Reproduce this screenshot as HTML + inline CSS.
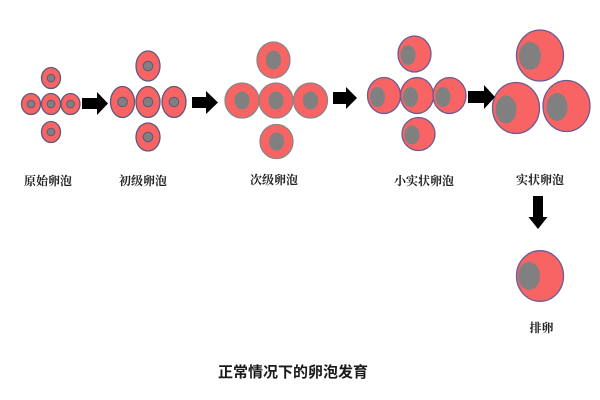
<!DOCTYPE html>
<html>
<head>
<meta charset="utf-8">
<style>
html,body{margin:0;padding:0;background:#fff;}
svg{display:block;}
.lbl{font-family:"Liberation Serif","Noto Serif CJK SC",serif;font-weight:bold;font-size:12px;fill:#222;}
.ttl{font-family:"Liberation Sans","Noto Sans CJK SC",sans-serif;font-weight:bold;font-size:15px;fill:#1a1a1a;}
</style>
</head>
<body>
<svg width="600" height="400" viewBox="0 0 600 400" xmlns="http://www.w3.org/2000/svg">
<rect width="600" height="400" fill="#fff"/>
<!-- Group 1 -->
<g fill="#f86464" stroke="#5a5a7c" stroke-width="1.3">
<ellipse cx="51" cy="78" rx="9.5" ry="10.5"/>
<ellipse cx="31" cy="104" rx="9.5" ry="10.5"/>
<ellipse cx="51" cy="104" rx="9.5" ry="10.5"/>
<ellipse cx="70.5" cy="104" rx="9.5" ry="10.5"/>
<ellipse cx="51" cy="132" rx="9.5" ry="10.5"/>
</g>
<g fill="#808080" stroke="#5a5a7c" stroke-width="1">
<circle cx="51" cy="78" r="3.8"/>
<circle cx="31" cy="104" r="3.8"/>
<circle cx="51" cy="104" r="3.8"/>
<circle cx="70.5" cy="104" r="3.8"/>
<circle cx="51" cy="132" r="3.8"/>
</g>
<!-- Group 2 -->
<g fill="#f86464" stroke="#5a5a7c" stroke-width="1.3">
<ellipse cx="148" cy="66" rx="12" ry="15"/>
<ellipse cx="122.5" cy="102" rx="12" ry="15.5"/>
<ellipse cx="148" cy="102" rx="12" ry="15.5"/>
<ellipse cx="174" cy="102" rx="12" ry="15.5"/>
<ellipse cx="148" cy="137" rx="12" ry="14"/>
</g>
<g fill="#808080" stroke="#5a5a7c" stroke-width="1">
<circle cx="148" cy="66" r="4.8"/>
<circle cx="122.5" cy="102" r="4.8"/>
<circle cx="148" cy="102" r="4.8"/>
<circle cx="174" cy="102" r="4.8"/>
<circle cx="148" cy="137" r="4.8"/>
</g>
<!-- Group 3 -->
<g fill="#f86464" stroke="#8a8484" stroke-width="1.3">
<ellipse cx="273.5" cy="60" rx="16.5" ry="18"/>
<ellipse cx="242" cy="100.5" rx="17" ry="17.5"/>
<ellipse cx="276" cy="100.5" rx="17" ry="17.5"/>
<ellipse cx="310.5" cy="100.5" rx="17" ry="17.5"/>
<ellipse cx="276.5" cy="141.5" rx="16.5" ry="17"/>
</g>
<g fill="#808080">
<ellipse cx="273.5" cy="60" rx="7.5" ry="9.5"/>
<ellipse cx="242" cy="100.5" rx="7.5" ry="9"/>
<ellipse cx="276" cy="100.5" rx="7.5" ry="9"/>
<ellipse cx="310.5" cy="100.5" rx="7.5" ry="9"/>
<ellipse cx="276.5" cy="141.5" rx="7.5" ry="9"/>
</g>
<!-- Group 4 -->
<g fill="#f86464" stroke="#6a5a96" stroke-width="1.3">
<ellipse cx="414.5" cy="54" rx="16.5" ry="18"/>
<ellipse cx="384" cy="95.5" rx="16.5" ry="18"/>
<ellipse cx="417" cy="95.5" rx="16.5" ry="18"/>
<ellipse cx="449.5" cy="95.5" rx="16.5" ry="18"/>
<ellipse cx="418.5" cy="134" rx="16.5" ry="16.5"/>
</g>
<g fill="#808080">
<ellipse cx="408" cy="55" rx="7.5" ry="10"/>
<ellipse cx="377.5" cy="97" rx="7.5" ry="10"/>
<ellipse cx="410.5" cy="97" rx="7.5" ry="10"/>
<ellipse cx="443" cy="97" rx="7.5" ry="10"/>
<ellipse cx="412" cy="135" rx="7.5" ry="9.5"/>
</g>
<!-- Group 5 -->
<g fill="#f86464" stroke="#6a5a96" stroke-width="1.3">
<ellipse cx="540" cy="55.5" rx="23.5" ry="25.5"/>
<ellipse cx="516" cy="108" rx="23.5" ry="25.5"/>
<ellipse cx="566.5" cy="106" rx="23.5" ry="25.5"/>
<ellipse cx="540" cy="276" rx="23.5" ry="25.3"/>
</g>
<g fill="#808080">
<ellipse cx="530" cy="56" rx="11" ry="14"/>
<ellipse cx="506" cy="109.5" rx="10.5" ry="14"/>
<ellipse cx="557" cy="107" rx="10.5" ry="14"/>
<ellipse cx="529" cy="276" rx="11" ry="14"/>
</g>
<!-- Arrows -->
<g fill="#000">
<polygon points="82,98 97,98 97,92 108,103.5 97,115 97,109 82,109"/>
<polygon points="192,97 206,97 206,91 218,102.5 206,114 206,108 192,108"/>
<polygon points="333,92 346,92 346,87 357,98 346,109 346,104 333,104"/>
<polygon points="468,91 484,91 484,85 495,97 484,109 484,103 468,103"/>
<polygon points="533,196 543,196 543,217 547.5,217 538,229 528.5,217 533,217"/>
</g>
<!-- Labels -->
<text class="lbl" x="48" y="185" text-anchor="middle">原始卵泡</text>
<text class="lbl" x="143" y="185" text-anchor="middle">初级卵泡</text>
<text class="lbl" x="274" y="184" text-anchor="middle">次级卵泡</text>
<text class="lbl" x="424" y="185" text-anchor="middle">小实状卵泡</text>
<text class="lbl" x="540" y="184" text-anchor="middle">实状卵泡</text>
<text class="lbl" x="541.5" y="332" text-anchor="middle">排卵</text>
<text class="ttl" x="293" y="377" text-anchor="middle">正常情况下的卵泡发育</text>
</svg>
</body>
</html>
